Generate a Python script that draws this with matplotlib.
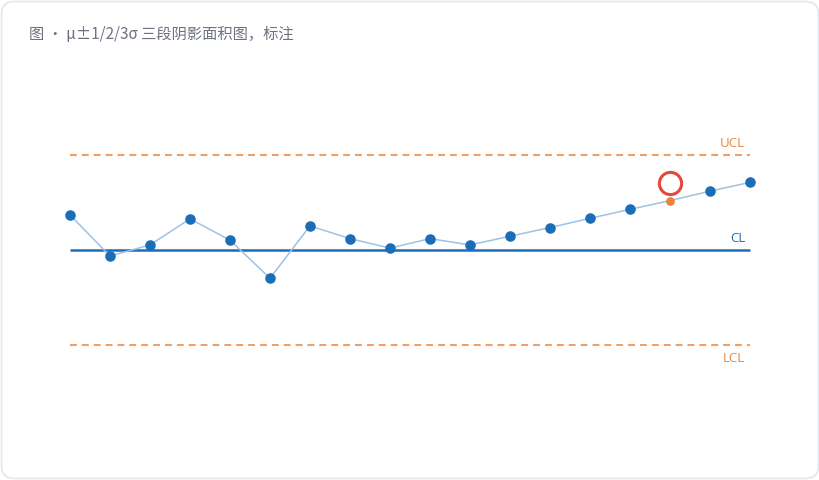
import matplotlib
matplotlib.use("Agg")
import matplotlib.pyplot as plt
from matplotlib.patches import FancyBboxPatch

# control chart data (mean 50, sigma 2)
samples = list(range(1, 19))
values = [52.2, 49.6, 50.3, 51.95, 50.6, 48.2, 51.5, 50.7, 50.1,
          50.7, 50.3, 50.85, 51.4, 51.98, 52.55, 53.1, 53.7, 54.25]
center = 50.0
sigma = 2.0
flagged = [16]   # sample flagged by trend rule

ucl = center + 3 * sigma
lcl = center - 3 * sigma

W, H = 820, 480
fig = plt.figure(figsize=(W / 100, H / 100), dpi=100)
fig.patch.set_facecolor("white")

# card background
card = FancyBboxPatch((1.5 / W, 1.5 / H), (W - 3) / W, (H - 3) / H,
                      boxstyle="round,pad=0,rounding_size=0.016",
                      transform=fig.transFigure, facecolor="white",
                      edgecolor="#e3e7ee", linewidth=1.2, mutation_aspect=W / H,
                      zorder=-10)
fig.patches.append(card)

fig.text(29 / W, 1 - 35 / H, "图 · μ±1/2/3σ 三段阴影面积图，标注",
         fontsize=11, color="#6b7280", va="center", ha="left",
         family=["Noto Sans CJK SC", "DejaVu Sans"])

# axes spans exactly x 70..750 px and y from UCL to LCL
ax = fig.add_axes([70 / W, 1 - 344.7 / H, 680 / W, 190 / H])
ax.set_xlim(samples[0], samples[-1])
ax.set_ylim(lcl, ucl)
ax.axis("off")

orange_line = "#f0a064"
orange_text = "#e8883a"
blue = "#1c6db8"

for y in (ucl, lcl):
    ax.plot([samples[0], samples[-1]], [y, y], color=orange_line, lw=1.5,
            dashes=(3.3, 2.4), dash_capstyle="butt", clip_on=False, zorder=1)
ax.plot([samples[0], samples[-1]], [center, center], color=blue, lw=1.8,
        solid_capstyle="butt", clip_on=False, zorder=2)

ax.plot(samples, values, color="#9dc2e5", lw=1.1, clip_on=False, zorder=3)
normal_x = [s for s in samples if s not in flagged]
normal_y = [v for s, v in zip(samples, values) if s not in flagged]
ax.plot(normal_x, normal_y, "o", color=blue, ms=7.6, mew=0,
        clip_on=False, zorder=4)
flag_y = [values[s - 1] for s in flagged]
ax.plot(flagged, flag_y, "o", color="#e8843a", ms=6.3, mew=0,
        clip_on=False, zorder=4)
# red ring marker above the flagged point
ax.plot(flagged, [v + 0.57 * sigma for v in flag_y], "o", ms=16, mfc="white",
        mec="#e5483a", mew=2.2, clip_on=False, zorder=5)

lab_font = ["Open Sans", "DejaVu Sans"]
ax.annotate("UCL", (samples[-1], ucl), xytext=(-3.5, 3.5), textcoords="offset points",
            ha="right", va="bottom", color=orange_text, fontsize=9.5, family=lab_font)
ax.annotate("CL", (samples[-1], center), xytext=(-3.5, 3.5), textcoords="offset points",
            ha="right", va="bottom", color=blue, fontsize=9.5, family=lab_font)
ax.annotate("LCL", (samples[-1], lcl), xytext=(-3.5, -5.5), textcoords="offset points",
            ha="right", va="top", color=orange_text, fontsize=9.5, family=lab_font)

fig.savefig("out.png", dpi=100)
